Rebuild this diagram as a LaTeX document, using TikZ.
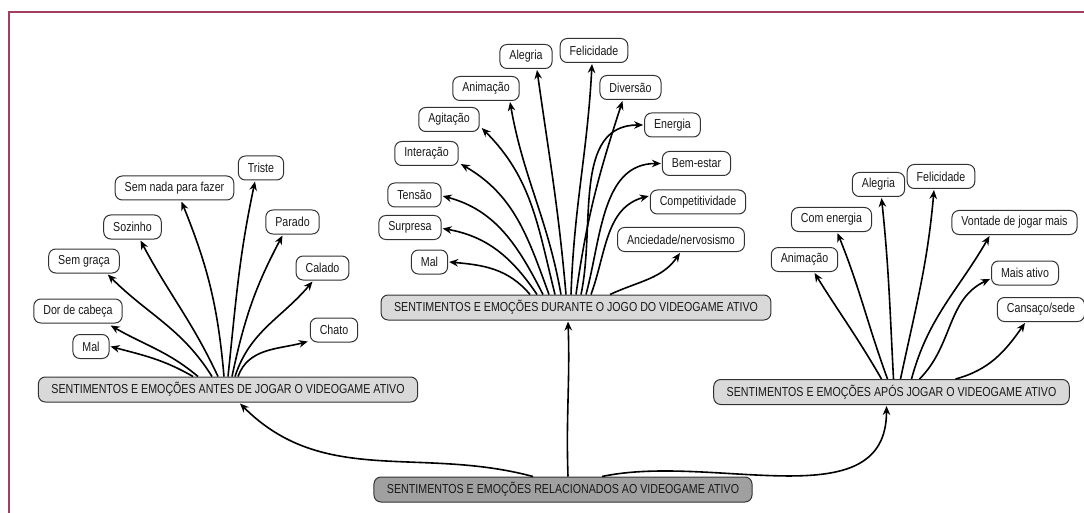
\documentclass[tikz,border=0pt]{standalone}
\usepackage{fontspec}
\setmainfont[FakeStretch=0.82]{Liberation Sans}
\usetikzlibrary{arrows.meta,calc}
\definecolor{frame}{RGB}{163,62,98}
\definecolor{boxline}{RGB}{50,50,50}
\definecolor{mainfill}{RGB}{217,217,217}
\definecolor{rootfill}{RGB}{160,160,160}
\definecolor{txt}{RGB}{25,25,25}
\begin{document}
\begin{tikzpicture}[x=1pt,y=-1pt,
  leaf/.style={draw=boxline,line width=1pt,rounded corners=7pt,fill=white,
    minimum height=24pt,inner xsep=9.5pt,inner ysep=0pt,text=txt,
    font=\fontsize{13}{15}\selectfont},
  hub/.style={leaf,fill=mainfill,minimum height=25pt,inner xsep=13pt},
  root/.style={hub,fill=rootfill},
  arr/.style={draw=black,line width=1.6pt,-{Stealth[length=9pt,width=7.5pt]}}]
\useasboundingbox (0,0) rectangle (1084,513);
% frame
\draw[frame,line width=2pt] (9,513) -- (9,12.5) -- (1084,12.5);

% hubs
\node[hub] (antes) at (228,389.5) {SENTIMENTOS E EMOÇÕES ANTES DE JOGAR O VIDEOGAME ATIVO};
\node[hub] (durante) at (576,307.5) {SENTIMENTOS E EMOÇÕES DURANTE O JOGO DO VIDEOGAME ATIVO};
\node[hub] (apos) at (891.5,392) {SENTIMENTOS E EMOÇÕES APÓS JOGAR O VIDEOGAME ATIVO};
\node[root] (rel) at (563,489.5) {SENTIMENTOS E EMOÇÕES RELACIONADOS AO VIDEOGAME ATIVO};

% left leaves
\node[leaf] (triste) at (261,168) {Triste};
\node[leaf] (semnada) at (174.5,188) {Sem nada para fazer};
\node[leaf] (parado) at (292.5,222) {Parado};
\node[leaf] (sozinho) at (132.5,227) {Sozinho};
\node[leaf] (semgraca) at (84,261) {Sem graça};
\node[leaf] (calado) at (322.5,268) {Calado};
\node[leaf] (dor) at (78,311) {Dor de cabeça};
\node[leaf] (chato) at (334,330) {Chato};
\node[leaf] (malA) at (91,346.5) {Mal};

% middle leaves
\node[leaf] (alegriaB) at (526,56.5) {Alegria};
\node[leaf] (felicidadeB) at (594,50.5) {Felicidade};
\node[leaf] (animacaoB) at (486,88.5) {Animação};
\node[leaf] (diversao) at (630.5,87.5) {Diversão};
\node[leaf] (agitacao) at (449,119.5) {Agitação};
\node[leaf] (energia) at (672.5,125) {Energia};
\node[leaf] (interacao) at (426.5,153.5) {Interação};
\node[leaf] (bemestar) at (696.5,163.5) {Bem-estar};
\node[leaf] (tensao) at (414.5,195) {Tensão};
\node[leaf] (compet) at (698,202) {Competitividade};
\node[leaf] (surpresa) at (410,227.5) {Surpresa};
\node[leaf] (anc) at (681,239.5) {Anciedade/nervosismo};
\node[leaf] (malB) at (429.5,262) {Mal};

% right leaves
\node[leaf] (alegriaC) at (878.5,184.5) {Alegria};
\node[leaf] (felicidadeC) at (941,176.5) {Felicidade};
\node[leaf] (comenergia) at (831.5,219.5) {Com energia};
\node[leaf] (vontade) at (1014.5,222.5) {Vontade de jogar mais};
\node[leaf] (animacaoC) at (804.5,259.5) {Animação};
\node[leaf] (maisativo) at (1025,273) {Mais ativo};
\node[leaf] (cansaco) at (1041,309.5) {Cansaço/sede};

% root connectors
\draw[arr] ($(rel.north)+(-30,0)$) to[out=165,in=-45] ($(antes.south)+(12,1)$);
\draw[arr] ($(rel.north)+(5,0)$) to[out=92,in=-88] ($(durante.south)+(-8,1)$);
\draw[arr] ($(rel.north)+(39,0)$) to[out=12,in=-90] ($(apos.south)+(-5,1)$);

% left connectors
\draw[arr] ($(antes.north)+(-35,0)$) to[out=150,in=-15] ($(malA.east)+(1,0)$);
\draw[arr] ($(antes.north)+(-30,0)$) to[out=140,in=-30] ($(dor.south east)+(-12,2)$);
\draw[arr] ($(antes.north)+(-16,0)$) to[out=122,in=-45] ($(semgraca.south east)+(-12,1)$);
\draw[arr] ($(antes.north)+(-10,0)$) to[out=115,in=-62] ($(sozinho.south)+(8,1)$);
\draw[arr] ($(antes.north)+(-4,0)$) to[out=95,in=-68] ($(semnada.south)+(7,1)$);
\draw[arr] ($(antes.north)+(0,0)$) to[out=84,in=-102] ($(triste.south)+(-6,1)$);
\draw[arr] ($(antes.north)+(4,0)$) to[out=78,in=-118] ($(parado.south)+(-10,1)$);
\draw[arr] ($(antes.north)+(7,0)$) to[out=72,in=-130] ($(calado.south)+(-10,1)$);
\draw[arr] ($(antes.north)+(10,0)$) to[out=70,in=-165] ($(chato.south west)+(-2,-1)$);

% middle connectors
\draw[arr] ($(durante.north)+(-46,0)$) to[out=130,in=-5] ($(malB.east)+(1,0)$);
\draw[arr] ($(durante.north)+(-39,0)$) to[out=124,in=-10] ($(surpresa.east)+(1,1)$);
\draw[arr] ($(durante.north)+(-33,0)$) to[out=117,in=-15] ($(tensao.east)+(1,1)$);
\draw[arr] ($(durante.north)+(-27,0)$) to[out=110,in=-30] ($(interacao.south east)+(2,-2)$);
\draw[arr] ($(durante.north)+(-21,0)$) to[out=104,in=-45] ($(agitacao.south east)+(2,-4)$);
\draw[arr] ($(durante.north)+(-15,0)$) to[out=100,in=-80] ($(animacaoB.south)+(24,1)$);
\draw[arr] ($(durante.north)+(-10,0)$) to[out=95,in=-82] ($(alegriaB.south)+(11,1)$);
\draw[arr] ($(durante.north)+(-5,0)$) to[out=88,in=-93] ($(felicidadeB.south)+(-2,1)$);
\draw[arr] ($(durante.north)+(0,0)$) to[out=82,in=-108] ($(diversao.south)+(-8,1)$);
\draw[arr] ($(durante.north)+(5,0)$) to[out=78,in=180] ($(energia.west)+(-1,0)$);
\draw[arr] ($(durante.north)+(10,0)$) to[out=75,in=180] ($(bemestar.west)+(-1,0)$);
\draw[arr] ($(durante.north)+(15,0)$) to[out=70,in=-165] ($(compet.west)+(-1,-6)$);
\draw[arr] ($(durante.north)+(34,0)$) to[out=25,in=-125] ($(anc.south)+(-1,1)$);

% right connectors
\draw[arr] ($(apos.north)+(-10,0)$) to[out=120,in=-58] ($(animacaoC.south)+(10,1)$);
\draw[arr] ($(apos.north)+(-4,0)$) to[out=110,in=-68] ($(comenergia.south)+(6,1)$);
\draw[arr] ($(apos.north)+(2,0)$) to[out=93,in=-84] ($(alegriaC.south)+(3,1)$);
\draw[arr] ($(apos.north)+(9,0)$) to[out=78,in=-95] ($(felicidadeC.south)+(-7,1)$);
\draw[arr] ($(apos.north)+(20,0)$) to[out=75,in=-120] ($(vontade.south)+(-25,1)$);
\draw[arr] ($(apos.north)+(28,0)$) to[out=45,in=-155] ($(maisativo.west)+(-1,6)$);
\draw[arr] ($(apos.north)+(64,0)$) to[out=15,in=-125] ($(cansaco.south)+(-16,1)$);
\end{tikzpicture}
\end{document}
